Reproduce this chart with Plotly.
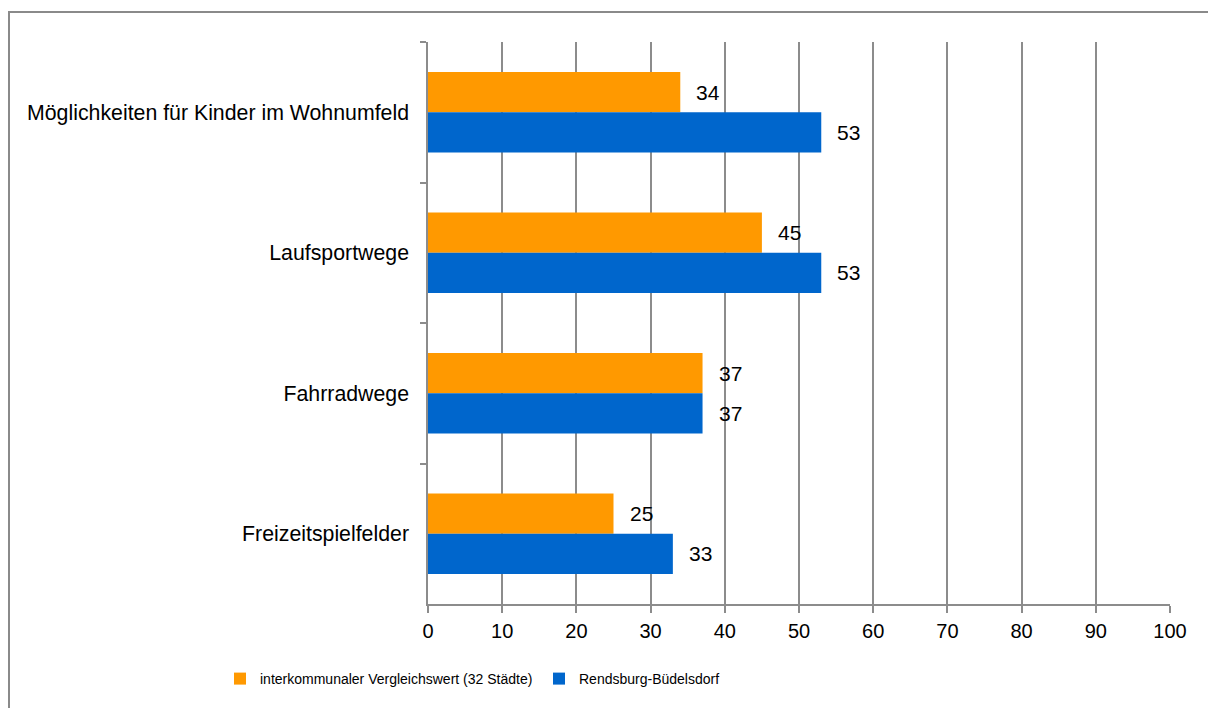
import plotly.graph_objects as go

categories = ["Möglichkeiten für Kinder im Wohnumfeld", "Laufsportwege", "Fahrradwege", "Freizeitspielfelder"]
series_names = ["interkommunaler Vergleichswert (32 Städte)", "Rendsburg-Büdelsdorf"]
vergleich = [34, 45, 37, 25]
rendsburg = [53, 53, 37, 33]
x_ticks = [0, 10, 20, 30, 40, 50, 60, 70, 80, 90, 100]

ORANGE = "#FF9900"
BLUE = "#0066CC"
GRID = "#8c8c8c"
W, H = 1208, 708
L, R, T, B = 428, 38, 42, 104
PW, PH = W - L - R, H - T - B

fig = go.Figure()
fig.add_trace(go.Bar(y=categories, x=vergleich, orientation="h", name=series_names[0],
                     marker=dict(color=ORANGE, line=dict(width=0))))
fig.add_trace(go.Bar(y=categories, x=rendsburg, orientation="h", name=series_names[1],
                     marker=dict(color=BLUE, line=dict(width=0))))

annotations = []
for vals, shift in ((vergleich, 20), (rendsburg, -20)):
    for c, v in zip(categories, vals):
        annotations.append(dict(x=v, y=c, text=str(v), showarrow=False, xanchor="left",
                                xshift=14, yshift=shift,
                                font=dict(family="Liberation Sans, Arial", size=21, color="#000")))

def px_x(p):
    return (p - L) / PW

def px_y(p):
    return (H - B - p) / PH

fig.update_layout(
    width=W, height=H,
    margin=dict(l=L, r=R, t=T, b=B),
    paper_bgcolor="white", plot_bgcolor="white",
    barmode="group", bargap=0.4286, bargroupgap=0,
    font=dict(family="Liberation Sans, Arial", size=20, color="#000"),
    xaxis=dict(range=[0, 100], tickvals=x_ticks, showgrid=True, gridcolor=GRID, gridwidth=1.5,
               showline=True, linecolor=GRID, linewidth=1.5, ticks="outside", ticklen=7,
               tickcolor=GRID, tickwidth=1.5, zeroline=False, ticklabelstandoff=1,
               tickfont=dict(size=20), fixedrange=True),
    yaxis=dict(autorange="reversed", showline=True, linecolor=GRID, linewidth=1.5,
               ticks="outside", ticklen=6, tickcolor=GRID, tickwidth=1.5, tickson="boundaries",
               showgrid=False, ticklabelstandoff=13, tickfont=dict(size=21.3), fixedrange=True),
    legend=dict(orientation="h", x=px_x(220), xanchor="left", y=px_y(679), yanchor="middle",
                font=dict(family="Liberation Sans, Arial", size=14),
                bgcolor="rgba(0,0,0,0)", itemwidth=30, entrywidth=274),
    annotations=annotations,
    shapes=[dict(type="rect", xref="paper", yref="paper",
                 x0=px_x(9), x1=px_x(1212), y0=px_y(712), y1=px_y(12),
                 line=dict(color="#8a8a8a", width=2), fillcolor="rgba(0,0,0,0)", layer="below")],
)

fig.write_html("out.html", config={"displayModeBar": False},
               post_script="document.body.style.margin='0';document.body.style.overflow='hidden';")
